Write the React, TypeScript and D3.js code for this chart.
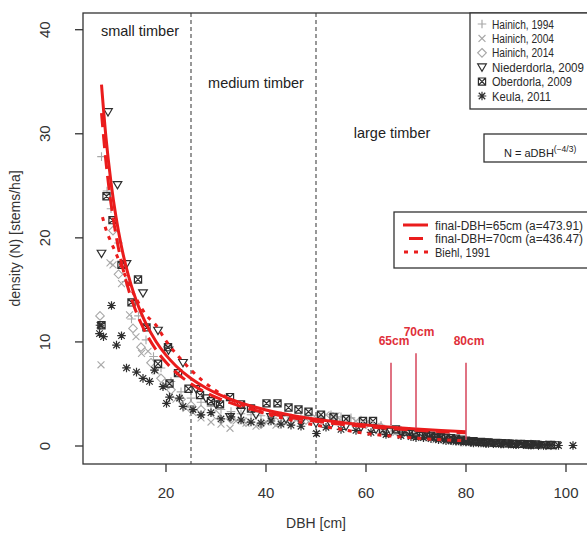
import React from "react";
import * as d3 from "d3";

// ---------- data ----------
const xTicks = [20, 40, 60, 80, 100];
const yTicks = [0, 10, 20, 30, 40];
const zoneBounds = [25, 50];
const zoneLabels = ["small timber", "medium timber", "large timber"];

const seriesNames = [
  "Hainich, 1994",
  "Hainich, 2004",
  "Hainich, 2014",
  "Niederdorla, 2009",
  "Oberdorla, 2009",
  "Keula, 2011",
];

const hainich1994: [number, number][] = [
  [7.1, 27.8], [8.2, 24.5], [9.0, 22.8], [10.5, 19.5], [12.0, 15.8], [13.1, 12.2], [14.5, 12.5],
  [16.0, 10.2], [17.5, 8.6], [19.0, 7.5], [21, 6.2], [23, 5.2], [25, 4.6], [27, 4.2], [29, 3.8],
  [31, 3.5], [33, 3.3], [35, 3.1], [37, 3.0], [39, 2.9], [41, 2.8], [43, 2.9], [45, 2.7], [47, 2.8],
  [49, 2.9], [50.1, 1.4], [51, 2.8], [53, 3.0], [55, 2.8], [57, 2.7], [59, 2.5], [61, 2.3], [63, 2.0],
  [65, 1.7], [67, 1.5], [69, 1.2], [71, 1.0], [73, 0.9], [75, 0.7], [77, 0.6], [79, 0.5], [81, 0.4],
  [83, 0.35], [85, 0.3], [87, 0.25], [89, 0.2], [91, 0.2], [93, 0.15], [95, 0.1],
];
const hainich2004: [number, number][] = [
  [7.0, 7.8], [8.8, 17.6], [9.4, 17.4], [11.1, 15.6], [12.7, 12.6], [14.0, 10.5], [15.1, 8.9],
  [16.4, 9.1], [18, 7.2], [20, 5.8], [22, 4.5], [24, 3.6], [25.4, 3.2], [27, 2.7], [29, 2.3],
  [31, 2.1], [32.8, 1.7], [34, 2.4], [36, 2.2], [38, 1.9], [40, 2.3], [42, 2.0], [44, 2.2], [46, 2.5],
  [48, 2.6], [50, 2.7], [52, 3.0], [54, 2.9], [56, 2.6], [58, 2.4], [60, 2.2], [62, 1.9], [64, 1.6],
  [66, 1.3], [68, 1.1], [70, 0.9], [72, 0.8], [74, 0.6], [76, 0.5], [78, 0.4], [80, 0.3], [82, 0.3],
  [84, 0.25], [86, 0.2], [88, 0.2], [90, 0.15], [92, 0.1], [94, 0.1], [96, 0.1],
];
const hainich2014: [number, number][] = [
  [6.8, 12.5], [9.4, 20.7], [10.5, 16.5], [13.4, 11.3], [15, 9.5], [17, 8.0], [19, 6.5], [21, 5.4],
  [23, 4.5], [25, 3.9], [27, 3.5], [30, 3.0], [33, 2.6], [36, 2.3], [39, 2.1], [42, 2.3], [45, 2.4],
  [48, 2.5], [51, 2.6], [54, 2.5], [57, 2.4], [60, 2.1], [63, 1.8], [66, 1.5], [69, 1.2], [72, 0.9],
  [75, 0.7], [78, 0.55], [81, 0.4], [84, 0.3], [87, 0.25], [90, 0.2], [93, 0.15], [96, 0.1],
];
const niederdorla2009: [number, number][] = [
  [7.1, 18.5], [8.4, 32.1], [10.3, 25.1], [12.1, 17.5], [15.4, 14.7], [18.4, 11.1], [20.5, 9.2],
  [23.4, 8.0], [26, 5.5], [28, 4.6], [30, 4.0], [32.8, 2.8], [35, 3.3], [38, 3.0], [41, 2.8],
  [44, 2.6], [47, 2.4], [50, 2.2], [53, 2.1], [56, 1.9], [59, 1.8], [62, 1.6], [65, 1.4], [67, 1.3],
  [68.5, 1.2], [71, 1.0], [72.5, 0.95], [74, 0.8], [75.5, 0.75], [77, 0.6], [78, 0.55], [79, 0.5],
  [80, 0.45], [81, 0.45], [82, 0.4], [82.5, 0.4], [83.5, 0.35], [84, 0.35], [85.5, 0.3], [86.5, 0.3],
  [87, 0.3], [88.5, 0.25], [89.5, 0.2], [90, 0.2], [91.5, 0.2], [92.5, 0.15], [93, 0.15], [94.5, 0.1],
  [95.5, 0.1], [96, 0.1], [97, 0.1], [98, 0.1],
];
const oberdorla2009: [number, number][] = [
  [7.1, 11.6], [8.1, 24.0], [9.3, 21.7], [11.1, 17.4], [13.1, 13.8], [14.4, 16.0], [16.1, 11.4],
  [18.4, 7.9], [20.4, 9.5], [20.7, 6.0], [22.4, 7.0], [24.5, 5.5], [26.8, 4.9], [29, 4.3],
  [30.8, 4.0], [32.8, 4.7], [35, 4.0], [37, 3.6], [40.1, 4.1], [42.3, 4.1], [44.5, 3.7], [46.5, 3.5],
  [48.5, 3.3], [51, 3.0], [53.5, 2.8], [56, 2.6], [59.4, 2.4], [61.4, 2.4], [63.4, 1.5], [66, 1.6],
  [68, 1.4], [70, 1.3], [72, 1.1], [73, 1.0], [74, 0.9], [75, 0.85], [76, 0.8], [77, 0.75], [78, 0.7],
  [79, 0.6], [80, 0.5], [81.5, 0.45], [83, 0.4], [84.5, 0.35], [86, 0.3], [88, 0.25], [89.5, 0.2],
  [91, 0.2], [92.5, 0.15], [94, 0.15], [97, 0.1],
];
const keula2011: [number, number][] = [
  [6.8, 11.6], [6.7, 10.8], [7.5, 10.5], [9.1, 13.5], [10.1, 9.7], [11.1, 10.6], [12.1, 7.5],
  [14.1, 7.1], [15.4, 6.5], [16.7, 6.2], [17.7, 7.3], [19.4, 5.7], [20.7, 4.7], [20.1, 4.1],
  [22.7, 4.6], [23.4, 3.8], [25.4, 3.5], [27, 3.0], [29, 3.2], [31, 2.6], [33, 2.8], [35, 2.5],
  [37, 2.3], [39, 2.2], [41, 2.4], [43, 2.1], [45, 2.0], [47, 1.9], [50.1, 1.2], [52, 1.8], [55, 1.6],
  [58, 1.5], [61, 1.3], [64, 1.1], [67, 1.0], [69, 0.9], [70, 0.8], [71.5, 0.8], [73, 0.7], [74.5, 0.6],
  [76, 0.5], [77, 0.5], [78, 0.45], [79, 0.4], [80, 0.4], [81, 0.35], [81.5, 0.3], [82.5, 0.3],
  [83, 0.3], [84, 0.25], [84.5, 0.25], [85.5, 0.25], [86, 0.25], [87, 0.2], [87.5, 0.2], [88.5, 0.2],
  [89, 0.2], [90, 0.15], [90.5, 0.15], [91.5, 0.15], [92, 0.15], [93, 0.1], [93.5, 0.1], [94.5, 0.1],
  [95, 0.1], [96, 0.1], [97, 0.1], [98.5, 0.05], [101.4, 0.05],
];

// fitted model N = a * DBH^(-4/3)
const fitLabels = ["final-DBH=65cm (a=473.91)", "final-DBH=70cm (a=436.47)", "Biehl, 1991"];
const fitA = [473.91, 436.47];
const fitDBH = [7.1, 8, 9, 10, 11, 12, 13, 14, 15, 16, 18, 20, 22, 25, 28, 31, 35, 40, 45, 50, 55, 60, 65, 70, 75, 80];
const biehlDBH = [7.3, 8, 9, 10, 12, 14, 16, 18, 20, 22.5, 25, 27.5, 30, 35, 40, 45, 50, 55, 60, 65, 70, 75, 80];
const biehlN = [22.0, 20.8, 19.6, 18.5, 16.2, 14.2, 12.6, 11.6, 10.1, 8.6, 7.3, 6.2, 5.3, 4.0, 3.1, 2.5, 2.0, 1.6, 1.2, 0.95, 0.75, 0.6, 0.5];

const finalDBH = [65, 70, 80];
const finalTop = [8.0, 8.9, 8.0];
const finalBottom = [2.0, 1.7, 0.6];
const finalLabelY = [9.7, 10.6, 9.7];

// ---------- layout ----------
const W = 587, H = 536;
const box = { left: 83, top: 13, right: 600, bottom: 464 };
const x = d3.scaleLinear().domain([0, 100]).range([66, 566]);
const y = d3.scaleLinear().domain([0, 40]).range([446, 29.7]);

const LIGHT = "#a8a8a8";
const DARK = "#2e2e2e";
const RED = "#ea1c1c";
const FONT = "Liberation Sans, Arial, sans-serif";

type Shape = "plus" | "cross" | "diamond" | "tri" | "sqx" | "star";
const shapes: Shape[] = ["plus", "cross", "diamond", "tri", "sqx", "star"];
const colors = [LIGHT, LIGHT, LIGHT, DARK, DARK, DARK];
const seriesData = [hainich1994, hainich2004, hainich2014, niederdorla2009, oberdorla2009, keula2011];

function markerPath(s: Shape): string {
  const r = 4.3;
  switch (s) {
    case "plus": return `M${-r},0H${r}M0,${-r}V${r}`;
    case "cross": return `M${-r * 0.8},${-r * 0.8}L${r * 0.8},${r * 0.8}M${-r * 0.8},${r * 0.8}L${r * 0.8},${-r * 0.8}`;
    case "diamond": return `M0,${-r}L${r},0L0,${r}L${-r},0Z`;
    case "tri": return `M${-r},${-r * 0.75}L${r},${-r * 0.75}L0,${r * 0.95}Z`;
    case "sqx": {
      const q = 3.6;
      return `M${-q},${-q}H${q}V${q}H${-q}ZM${-q},${-q}L${q},${q}M${-q},${q}L${q},${-q}`;
    }
    case "star": {
      const d = r * 0.75;
      return `M${-r},0H${r}M0,${-r}V${r}M${-d},${-d}L${d},${d}M${-d},${d}L${d},${-d}`;
    }
  }
}

export default function App() {
  const line = d3.line<[number, number]>().x((d) => x(d[0])).y((d) => y(d[1])).curve(d3.curveMonotoneX);
  const fits = fitA.map((a) => fitDBH.map((dbh) => [dbh, a * Math.pow(dbh, -4 / 3)] as [number, number]));
  const biehl = biehlDBH.map((dbh, i) => [dbh, biehlN[i]] as [number, number]);
  const curveStyles = [
    { dash: undefined as string | undefined, data: fits[0] },
    { dash: "14,7", data: fits[1] },
    { dash: "4,6", data: biehl },
  ];
  const legendDash = [undefined, "14,7", "4,6"];
  const seriesTextLen = [62, 62, 62, 92, 80, 59];
  const fitTextLen = [148, 148, 55];

  return (
    <svg width={W} height={H} style={{ position: "absolute", left: 0, top: 0, background: "#fff" }} fontFamily={FONT}>
      <defs>
        <clipPath id="plotclip">
          <rect x={box.left} y={box.top} width={box.right - box.left} height={box.bottom - box.top} />
        </clipPath>
      </defs>

      {/* zone boundaries */}
      {zoneBounds.map((b) => (
        <line key={b} x1={x(b)} x2={x(b)} y1={box.top} y2={box.bottom} stroke="#444" strokeWidth={1.1} strokeDasharray="4,3" />
      ))}
      <text x={140} y={36} fontSize={14.5} fill="#222" textAnchor="middle">{zoneLabels[0]}</text>
      <text x={256} y={88} fontSize={14.5} fill="#222" textAnchor="middle">{zoneLabels[1]}</text>
      <text x={392} y={138} fontSize={14.5} fill="#222" textAnchor="middle">{zoneLabels[2]}</text>

      {/* points */}
      <g clipPath="url(#plotclip)">
        {seriesData.map((data, si) => (
          <g key={si} stroke={colors[si]} fill="none" strokeWidth={si < 3 ? 1.1 : 1.2}>
            {data.map((d, i) => (
              <path key={i} d={markerPath(shapes[si])} transform={`translate(${x(d[0])},${y(d[1])})`} />
            ))}
          </g>
        ))}

        {/* fitted curves */}
        {curveStyles.map((c, i) => (
          <path key={i} d={line(c.data) || ""} fill="none" stroke={RED} strokeWidth={3} strokeDasharray={c.dash} />
        ))}
      </g>

      {/* final DBH markers */}
      {finalDBH.map((f, i) => (
        <g key={f}>
          <line x1={x(f)} x2={x(f)} y1={y(finalTop[i])} y2={y(finalBottom[i])} stroke="#d6455a" strokeWidth={1.5} />
          <text x={x(f) + 3} y={y(finalLabelY[i])} fontSize={12} fill="#e0303a" textAnchor="middle" fontWeight={600}>{`${f}cm`}</text>
        </g>
      ))}

      {/* plot box */}
      <rect x={box.left} y={box.top} width={box.right - box.left} height={box.bottom - box.top} fill="none" stroke="#333" strokeWidth={1.3} />

      {/* x axis */}
      {xTicks.map((t) => (
        <g key={t}>
          <line x1={x(t)} x2={x(t)} y1={box.bottom} y2={box.bottom + 8} stroke="#333" strokeWidth={1.3} />
          <text x={x(t)} y={498} fontSize={15} fill="#333" textAnchor="middle">{t}</text>
        </g>
      ))}
      <text x={x(50)} y={528} fontSize={14} fill="#333" textAnchor="middle">DBH [cm]</text>

      {/* y axis */}
      {yTicks.map((t) => (
        <g key={t}>
          <line x1={box.left} x2={box.left - 8} y1={y(t)} y2={y(t)} stroke="#333" strokeWidth={1.3} />
          <text transform={`translate(50,${y(t)}) rotate(-90)`} fontSize={15} fill="#333" textAnchor="middle">{t}</text>
        </g>
      ))}
      <text transform={`translate(20,${(box.top + box.bottom) / 2}) rotate(-90)`} fontSize={14} fill="#333" textAnchor="middle">
        density (N) [stems/ha]
      </text>

      {/* series legend */}
      <rect x={470} y={box.top} width={130} height={96} fill="#fff" stroke="#333" strokeWidth={1.3} />
      {seriesNames.map((n, i) => (
        <g key={n} transform={`translate(0,${24 + i * 14.4})`}>
          <path d={markerPath(shapes[i])} transform="translate(482,0)" stroke={colors[i]} fill="none" strokeWidth={1.2} />
          <text x={492} y={4.5} fontSize={12} fill="#2a2a2a" textLength={seriesTextLen[i]} lengthAdjust="spacingAndGlyphs">{n}</text>
        </g>
      ))}

      {/* formula */}
      <rect x={484} y={134} width={120} height={28} fill="#fff" stroke="#333" strokeWidth={1.3} />
      <text x={504} y={157} fontSize={11} fill="#222">
        N = aDBH
        <tspan dy={-5} fontSize={8.5}>(−4/3)</tspan>
      </text>

      {/* fit legend */}
      <rect x={394} y={212} width={210} height={56} fill="#fff" stroke="#333" strokeWidth={1.3} />
      {fitLabels.map((l, i) => (
        <g key={l} transform={`translate(0,${225 + i * 13.5})`}>
          <line x1={403} x2={428} y1={0} y2={0} stroke={RED} strokeWidth={3} strokeDasharray={legendDash[i]} strokeDashoffset={i === 1 ? -6 : i === 2 ? -1 : 0} />
          <text x={435} y={4.5} fontSize={12} fill="#2a2a2a" textLength={fitTextLen[i]} lengthAdjust="spacingAndGlyphs">{l}</text>
        </g>
      ))}
    </svg>
  );
}
